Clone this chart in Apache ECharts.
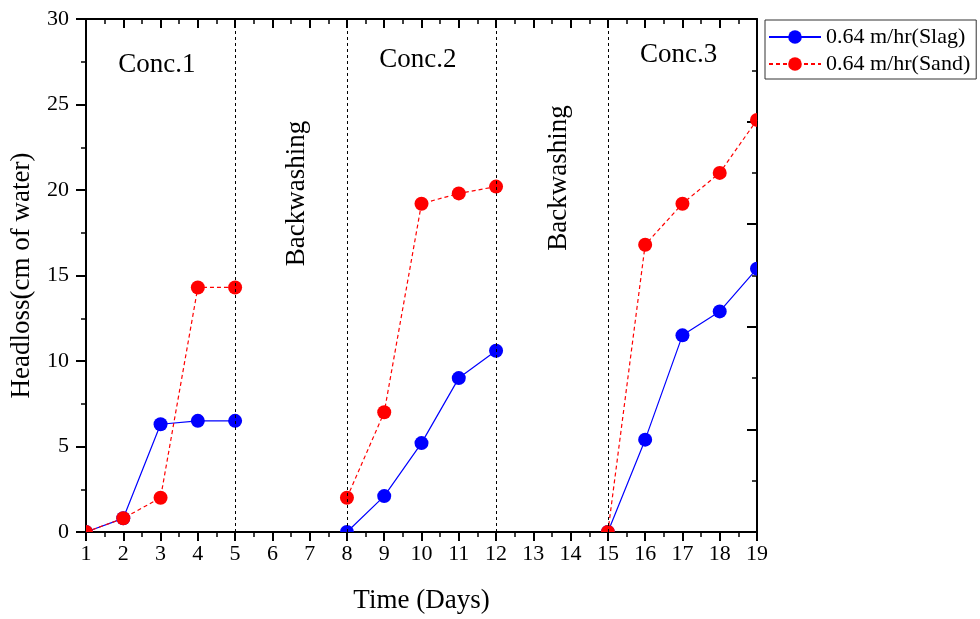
<!DOCTYPE html>
<html>
<head>
<meta charset="utf-8">
<script src="https://cdn.jsdelivr.net/npm/echarts@6/dist/echarts.min.js"></script>
<style>
  html, body { margin: 0; padding: 0; background: #fff; }
  #chart { width: 980px; height: 619px; }
</style>
</head>
<body>
<div id="chart"></div>
<script>
// Headloss readings per day; null marks the backwashing days with no reading
const days = [1, 2, 3, 4, 5, 6, 7, 8, 9, 10, 11, 12, 13, 14, 15, 16, 17, 18, 19];
const slag = [0, 0.8, 6.3, 6.5, 6.5, null, null, 0, 2.1, 5.2, 9.0, 10.6, null, null, 0, 5.4, 11.5, 12.9, 15.4];
const sand = [0, 0.8, 2.0, 14.3, 14.3, null, null, 2.0, 7.0, 19.2, 19.8, 20.2, null, null, 0, 16.8, 19.2, 21.0, 24.1];
const seriesNames = ['0.64 m/hr(Slag)', '0.64 m/hr(Sand)'];
// Days on which a filtration run starts or ends
const phaseBounds = [5, 8, 12, 15];
const phaseNotes = ['Conc.1', 'Conc.2', 'Conc.3', 'Backwashing', 'Backwashing'];

const FONT = '"Liberation Serif", "Times New Roman", serif';
const BLUE = '#0000ff';
const RED = '#ff0000';

function linePairs(vals) {
  return days.map((d, i) => [d, vals[i] === null ? '-' : vals[i]]);
}
function pointPairs(vals) {
  return days.map((d, i) => [d, vals[i]]).filter(p => p[1] !== null);
}

// Where each note sits, in (day, headloss) coordinates, and its rotation
const notePlacement = [
  [2.9, 27.3, 0],
  [9.9, 27.6, 0],
  [16.9, 27.9, 0],
  [6.66, 19.8, Math.PI / 2],
  [13.68, 20.7, Math.PI / 2]
];
const noteData = phaseNotes.map((t, i) => ({
  value: [notePlacement[i][0], notePlacement[i][1]],
  name: t,
  rot: notePlacement[i][2]
}));

function markerSeries(vals, color, z) {
  return {
    type: 'custom',
    clip: true,
    silent: true,
    z: z,
    xAxisIndex: 0,
    yAxisIndex: 0,
    data: pointPairs(vals),
    encode: { x: 0, y: 1 },
    renderItem: function (params, api) {
      const p = api.coord([api.value(0), api.value(1)]);
      return {
        type: 'circle',
        shape: { cx: p[0], cy: p[1], r: 7 },
        style: { fill: color }
      };
    }
  };
}

const axisLineStyle = { color: '#000', width: 2 };
const tickStyle = { color: '#000', width: 2 };
const minorStyle = { color: '#000', width: 1.5 };

const chart = echarts.init(document.getElementById('chart'), null, { renderer: 'canvas' });

chart.setOption({
  backgroundColor: '#fff',
  animation: false,
  textStyle: { fontFamily: FONT, color: '#000' },
  grid: { left: 85, right: 223, top: 19, bottom: 87, containLabel: false },
  legend: {
    data: seriesNames,
    orient: 'vertical',
    left: 765,
    top: 20,
    width: 212,
    itemWidth: 52,
    itemHeight: 17,
    itemGap: 5,
    padding: [6, 6, 4, 3],
    borderColor: '#333',
    borderWidth: 1,
    textStyle: { fontFamily: FONT, fontSize: 22, color: '#000' }
  },
  xAxis: [
    {
      type: 'value',
      position: 'bottom',
      min: 1,
      max: 19,
      interval: 1,
      name: 'Time (Days)',
      nameLocation: 'middle',
      nameGap: 55,
      nameTextStyle: { fontFamily: FONT, fontSize: 27, color: '#000' },
      axisLine: { show: true, onZero: false, lineStyle: axisLineStyle },
      axisTick: { show: true, inside: false, length: 9, lineStyle: tickStyle },
      minorTick: { show: true, splitNumber: 2, length: 5, lineStyle: minorStyle },
      axisLabel: { fontFamily: FONT, fontSize: 22, color: '#000', margin: 11 },
      splitLine: { show: false },
      minorSplitLine: { show: false }
    },
    {
      type: 'value',
      position: 'top',
      min: 1,
      max: 19,
      interval: 1,
      axisLine: { show: true, onZero: false, lineStyle: axisLineStyle },
      axisTick: { show: true, inside: true, length: 9, lineStyle: tickStyle },
      minorTick: { show: true, splitNumber: 2, length: 5, lineStyle: minorStyle },
      axisLabel: { show: false },
      splitLine: { show: false },
      minorSplitLine: { show: false }
    }
  ],
  yAxis: [
    {
      type: 'value',
      position: 'left',
      min: 0,
      max: 30,
      interval: 5,
      name: 'Headloss(cm of water)',
      nameLocation: 'middle',
      nameGap: 51,
      nameTextStyle: { fontFamily: FONT, fontSize: 27, color: '#000' },
      axisLine: { show: true, onZero: false, lineStyle: axisLineStyle },
      axisTick: { show: true, inside: false, length: 10, lineStyle: tickStyle },
      minorTick: { show: true, splitNumber: 2, length: 5, lineStyle: minorStyle },
      axisLabel: { fontFamily: FONT, fontSize: 22, color: '#000', margin: 17 },
      splitLine: { show: false },
      minorSplitLine: { show: false }
    },
    {
      type: 'value',
      position: 'right',
      min: 0,
      max: 30,
      interval: 6,
      axisLine: { show: true, onZero: false, lineStyle: axisLineStyle },
      axisTick: { show: true, inside: true, length: 10, lineStyle: tickStyle },
      minorTick: { show: true, splitNumber: 2, length: 5, lineStyle: minorStyle },
      axisLabel: { show: false },
      splitLine: { show: false },
      minorSplitLine: { show: false }
    }
  ],
  series: [
    {
      name: seriesNames[0],
      type: 'line',
      xAxisIndex: 0,
      yAxisIndex: 0,
      data: linePairs(slag),
      connectNulls: false,
      symbol: 'circle',
      showSymbol: false,
      itemStyle: { color: BLUE },
      lineStyle: { color: BLUE, width: 1.2, type: 'solid' },
      z: 2,
      markLine: {
        silent: true,
        symbol: ['none', 'none'],
        label: { show: false },
        lineStyle: { color: '#000', width: 1, type: [3, 3] },
        data: phaseBounds.map(d => ({ xAxis: d }))
      }
    },
    {
      name: seriesNames[1],
      type: 'line',
      xAxisIndex: 0,
      yAxisIndex: 0,
      data: linePairs(sand),
      connectNulls: false,
      symbol: 'circle',
      showSymbol: false,
      itemStyle: { color: RED },
      lineStyle: { color: RED, width: 1.2, type: [4, 3] },
      z: 2
    },
    markerSeries(slag, BLUE, 3),
    markerSeries(sand, RED, 4),
    {
      type: 'custom',
      clip: false,
      silent: true,
      z: 5,
      xAxisIndex: 0,
      yAxisIndex: 0,
      data: noteData,
      encode: { x: 0, y: 1 },
      renderItem: function (params, api) {
        const p = api.coord([api.value(0), api.value(1)]);
        const item = noteData[params.dataIndex];
        return {
          type: 'text',
          x: p[0],
          y: p[1],
          rotation: item.rot,
          style: {
            text: item.name,
            font: '27px ' + FONT,
            fill: '#000',
            align: 'center',
            verticalAlign: 'middle'
          }
        };
      }
    }
  ]
});
</script>
</body>
</html>
